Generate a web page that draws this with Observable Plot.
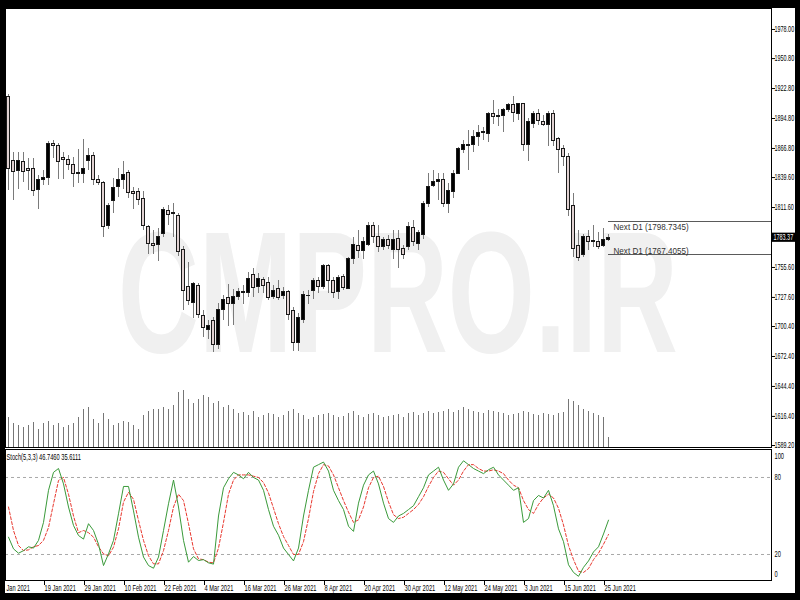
<!DOCTYPE html>
<html><head><meta charset="utf-8">
<script src="https://cdn.jsdelivr.net/npm/d3@7"></script>
<script src="https://cdn.jsdelivr.net/npm/@observablehq/plot@0.6"></script>
<style>
html,body{margin:0;padding:0;background:#000;}
#wrap{position:relative;width:800px;height:600px;background:#000;overflow:hidden;}
#inner{position:absolute;left:5px;top:8px;width:790px;height:585px;background:#fff;overflow:hidden;}
#inner > svg{position:absolute;max-width:none !important;}
</style></head><body>
<div id="wrap"><div id="inner">
<svg id="wm" width="800" height="600" style="left:-5px;top:-8px;">
  <text x="118" y="352" font-family="'Liberation Sans', Arial, sans-serif" font-weight="bold" font-size="173" fill="#f0f0f0" textLength="560" lengthAdjust="spacingAndGlyphs">CMPRO.IR</text>
</svg>
</div></div>
<script>
// ---- data (XAUUSD daily, 8 Jan 2021 .. 28 Jun 2021) ----
const open  = [1914.7,1855,1846,1854.5,1848,1848,1828,1837.5,1839.6,1871,1869.3,1857.7,1855.6,1851,1843.5,1842.5,1855,1859.6,1837.5,1834.4,1794,1817.5,1830.6,1837.5,1843.7,1825.7,1826,1819.8,1793,1777.7,1777,1787,1808.8,1806.5,1804,1772,1737.8,1722.6,1738.7,1710.7,1697,1706,1682.7,1715.4,1727,1721,1727.8,1732.5,1732,1749,1737,1744,1741,1727.8,1735.7,1728.5,1732.5,1714.7,1684.8,1706.7,1728.5,1734,1743.4,1737,1756.5,1743.4,1733.1,1746.5,1735.7,1763.7,1776,1770.8,1777,1793.9,1784,1774.5,1781.5,1772,1782.4,1773,1774.5,1792.7,1777.7,1786.4,1814.5,1832,1835,1837,1815,1826,1843,1865.6,1869.6,1869.6,1877.4,1881,1880.5,1898.6,1896.7,1896.7,1903,1907,1899,1908.6,1870.5,1889.8,1898.6,1891.4,1888.3,1898.6,1875.8,1866.5,1858.7,1812.6,1776,1767.7,1784,1780,1779,1776,1781.5];
const high  = [1917,1863,1863,1863,1857,1857,1841.6,1846,1873,1874,1871,1863,1860,1858,1866,1875.5,1867,1863,1841.6,1836,1815,1838.5,1848,1855,1846,1830.6,1829,1827,1794.8,1790,1792,1812,1813.5,1815,1806,1775,1760,1742,1741,1715,1706,1709,1722,1729,1740,1735,1735.6,1738.7,1751,1755,1750,1746.6,1746.6,1738.7,1743,1737,1734,1718.5,1712.5,1733,1734,1745,1746,1758,1758,1746,1748,1749,1765,1784,1790,1784,1798,1798,1795,1784,1785.5,1790,1790,1776.5,1798,1799.5,1790,1817,1843.5,1846,1843.5,1843.5,1834,1846.6,1868,1874.3,1883.6,1883.6,1888,1886,1900,1911.6,1903,1904,1909,1915,1909,1909,1894.8,1901,1903,1898,1901,1902,1877,1869.6,1862,1825,1790,1786.7,1790,1795,1788,1792,1786.7];
const low   = [1827.5,1818,1828,1834.7,1827.5,1822,1810,1832,1832,1857,1837.5,1838,1846,1830,1834,1834,1846,1832,1832,1784,1791,1806,1821,1828,1820,1810,1813.5,1790,1768,1768,1761,1784,1795,1784,1766,1715,1720,1708,1708,1690,1688,1676,1679,1706,1700,1701,1724.5,1721,1727.8,1727.8,1731,1731,1724.5,1725.5,1724.5,1725.5,1706,1677,1677,1703,1721,1726,1731,1735,1731,1727,1726,1734,1735,1758,1764,1763,1775,1778,1770,1771,1772,1763,1755,1763,1771,1775,1771,1782,1812,1830,1818,1812,1806,1820,1843,1862,1846,1863,1869,1874,1872,1889,1887,1882,1900,1891,1893,1864,1855,1885,1888,1887,1869,1869,1843,1850,1803,1765,1761,1765,1771,1774,1772,1774,1780];
const close = [1848,1844.6,1855,1844.6,1846,1827.5,1837.5,1839.4,1871,1869,1854.4,1855.8,1851,1843,1843,1848,1860,1837.5,1834.4,1793,1813.5,1830,1837.5,1841.6,1825,1823.8,1818.2,1794.8,1777.7,1775.5,1784,1809.5,1805,1805.5,1770,1734,1724,1739.7,1711.6,1699,1700.7,1682.7,1716,1725.4,1721.6,1727.8,1732.5,1732,1745,1736.6,1745,1738.7,1727,1734,1727,1733,1711.6,1684.8,1708.5,1730.3,1729,1743,1737.8,1756.5,1743.4,1731.6,1745.6,1736.6,1763.7,1777,1770.8,1779,1793.9,1784.5,1775,1781.5,1776,1781.5,1771.5,1767.7,1793,1779,1787.7,1815,1830.6,1835.3,1837,1815,1827.5,1843,1866.5,1869.6,1869,1877.4,1881,1882,1899,1896,1896.2,1903,1907,1899.8,1908.6,1870.5,1891.4,1898.6,1892.3,1888.3,1899,1874,1865.6,1858.7,1809.5,1773,1764.6,1784,1779,1779.6,1774.5,1781.5,1783.37];
const volume = [150,120,110,100,110,125,90,120,130,110,120,100,110,120,150,190,200,140,120,170,140,110,120,130,125,110,90,160,180,190,190,200,190,210,275,285,240,220,240,260,250,220,230,200,210,190,170,175,160,180,150,160,170,165,150,160,180,190,170,160,140,150,160,165,170,160,150,155,170,180,160,150,165,170,160,150,155,160,165,150,170,175,160,170,180,170,175,180,190,175,185,200,190,180,175,170,185,180,175,170,160,165,170,180,175,165,160,170,165,160,170,175,240,230,210,190,180,170,160,150,50];
const stochK = [33.5,24.4,21,23,26,25,31,45,70,84,87,75,57,42.6,34.8,32,44,38.7,28,11.4,20.5,31,51.7,73,73,54,33.5,18,11.4,9.3,18,38.7,59.5,78,57,31,14,18.4,15.3,16,13.5,12.5,50,72,79,84,82,79,84,80,78,70,55,42,35,25,20,15,25,50,70,88,90,92,85,70,62,55,42,38,60,74,82,85,75,60,48,45,50,52,55,58,65,72,82,85,88,78,70,75,88,93,90,87,85,83,86,88,82,78,74,70,72,45,48,62,66,64,70,58,40,30,12,6,3,10,15,22,26,36,46.746];
const stochD = [57,38.7,27,23,23.6,26,27,31,41,59.5,77.7,80,67,50,37,38.7,37,33.5,26,20.5,19,25.7,40,60.8,68.5,63,46.5,31,19,12.7,12.7,23,38.7,57,67,62,44,24.4,16.6,16,14,13.5,25,45,67,78,82,82,82,81,80,76,68,56,44,34,27,20,20,30,48,69,83,90,89,82,72,62,53,45,47,57,72,80,81,73,61,51,48,49,52,55,59,65,73,80,85,84,79,74,78,85,90,90,87,85,85,86,85,83,78,74,72,62,55,52,59,64,67,64,56,43,27,16,7,6,9,16,21,28,35.6111];
const priceTicks = [1978.00,1950.80,1922.80,1894.80,1866.80,1839.60,1811.60,1755.60,1727.60,1700.40,1672.40,1644.40,1616.40,1589.20];
const dateTickIdx = [7,15,23,31,39,47,55,63,71,79,87,95,103,111,119];
const dateTickLabels = ["19 Jan 2021","29 Jan 2021","10 Feb 2021","22 Feb 2021","4 Mar 2021","16 Mar 2021","26 Mar 2021","8 Apr 2021","20 Apr 2021","30 Apr 2021","12 May 2021","24 May 2021","3 Jun 2021","15 Jun 2021","25 Jun 2021"];
const firstLabel = "Jan 2021";
const nextD1 = [1798.7345, 1767.4055];
const stochLevels = [80, 20];
const stochTitle = "Stoch(5,3,3) 46.7460 35.6111";

// ---- build ----
const FONT = "'Liberation Sans', Arial, sans-serif";
const NEXT_FILL = "#323232";
const N = open.length;
const bars = d3.range(N).map(i => ({i, o: open[i], h: high[i], l: low[i], c: close[i], v: volume[i], k: stochK[i], d: stochD[i], up: close[i] >= open[i]}));
const xDomain = [-0.6, 152.6];
const priceDomain = [1587.35, 1997.6];
const lastClose = close[N - 1];
const labelOf = new Map(dateTickIdx.map((t, j) => [t, dateTickLabels[j]]));
const inner = document.getElementById("inner");

function place(el, top) {
  el.style.left = "-5px";
  el.style.top = (top - 8) + "px";
  el.style.maxWidth = "none";
  el.style.height = el.getAttribute("height") + "px";
  inner.appendChild(el);
}
function squeeze(svg, factor, sel) {
  svg.querySelectorAll(sel).forEach(t => {
    if (t.hasAttribute("textLength")) return;
    const len = t.getComputedTextLength();
    if (len > 0) {
      t.setAttribute("textLength", (len * factor).toFixed(2));
      t.setAttribute("lengthAdjust", "spacingAndGlyphs");
    }
  });
}

const common = {width: 800, marginLeft: 5, marginRight: 29, marginTop: 0};

// volume overlay (drawn under candles)
const volPlot = Plot.plot({
  ...common, height: 439, marginBottom: 0,
  x: {domain: xDomain, axis: null},
  y: {domain: [0, 2195], axis: null},
  style: {background: "transparent", overflow: "visible", maxWidth: "none"},
  marks: [
    Plot.ruleX(bars, {x: "i", y1: 0, y2: "v", stroke: "#767676", strokeWidth: 1, shapeRendering: "crispEdges"})
  ]
});
place(volPlot, 8);

const pricePlot = Plot.plot({
  ...common, height: 439, marginBottom: 0,
  x: {domain: xDomain, axis: null},
  y: {domain: priceDomain, axis: null},
  style: {background: "transparent", overflow: "visible", maxWidth: "none", fontFamily: FONT, fontSize: "8.5px", color: "#000"},
  marks: [
    Plot.ruleX(bars, {x: "i", y1: "l", y2: "h", stroke: "#7a7a7a", strokeWidth: 1, shapeRendering: "crispEdges"}),
    Plot.rect(bars, {x1: d => d.i - 0.25, x2: d => d.i + 0.25, y1: "o", y2: "c", fill: d => d.up ? "#000" : "#e0d1d1", stroke: "#1a1a1a", strokeWidth: 1, shapeRendering: "crispEdges"}),
    Plot.ruleY(nextD1, {y: d => d, x1: N - 1, x2: xDomain[1], stroke: "#5a5a5a", strokeWidth: 1, shapeRendering: "crispEdges"}),
    Plot.text([nextD1[0]], {x: N - 1, y: d => d, text: d => `Next D1 (${d.toFixed(4)})`, dx: 5, dy: 2, textAnchor: "start", lineAnchor: "top", fill: NEXT_FILL, fontSize: 9.3}),
    Plot.text([nextD1[1]], {x: N - 1, y: d => d, text: d => `Next D1 (${d.toFixed(4)})`, dx: 5, dy: -1, textAnchor: "start", lineAnchor: "bottom", fill: NEXT_FILL, fontSize: 9.3}),
    Plot.frame({stroke: "#000"}),
    Plot.axisY({anchor: "right", ticks: priceTicks, tickSize: 3, tickPadding: 0, tickFormat: d => d.toFixed(2), textAnchor: "start", label: null}),
    Plot.rect([lastClose], {x1: xDomain[1], x2: xDomain[1] + 6, y1: d => d - 4.3, y2: d => d + 4.3, fill: "#000"}),
    Plot.text([lastClose], {x: xDomain[1], y: d => d, text: d => d.toFixed(2), dx: 2, textAnchor: "start", fill: "#fff"})
  ]
});
place(pricePlot, 8);
squeeze(pricePlot, 0.87, `g[fill="${NEXT_FILL}"] text`);
squeeze(pricePlot, 0.64, "text");

const stochPlot = Plot.plot({
  ...common, height: 143, marginBottom: 12,
  x: {domain: xDomain, axis: null},
  y: {domain: [-0.26, 101.8], axis: null},
  style: {background: "transparent", overflow: "visible", maxWidth: "none", fontFamily: FONT, fontSize: "8.5px", color: "#000"},
  marks: [
    Plot.ruleY(stochLevels, {stroke: "#a8a8a8", strokeDasharray: "3,3"}),
    Plot.line(bars, {x: "i", y: "d", stroke: "#e8382f", strokeWidth: 1, strokeDasharray: "3,2"}),
    Plot.line(bars, {x: "i", y: "k", stroke: "#3a9a3a", strokeWidth: 1}),
    Plot.frame({stroke: "#000"}),
    Plot.axisX({ticks: dateTickIdx, tickFormat: t => labelOf.get(t), tickSize: 5, tickPadding: -1, textAnchor: "start", dx: 1, label: null}),
    Plot.text([firstLabel], {x: xDomain[0], frameAnchor: "bottom", text: d => d, dx: 1, dy: 4, textAnchor: "start", lineAnchor: "top"}),
    Plot.text(stochLevels, {x: xDomain[1], y: d => d, text: d => String(d), dx: 3, textAnchor: "start"}),
    Plot.text([100], {x: xDomain[1], y: d => d, text: d => String(d), dx: 3, dy: 4, textAnchor: "start"}),
    Plot.text([0], {x: xDomain[1], y: d => d, text: d => String(d), dx: 3, dy: -6, textAnchor: "start"}),
    Plot.text([stochTitle], {frameAnchor: "top-left", text: d => d, dx: 1, dy: 4, textAnchor: "start", lineAnchor: "top"})
  ]
});
place(stochPlot, 449);
squeeze(stochPlot, 0.67, "text");
</script>
</body></html>
